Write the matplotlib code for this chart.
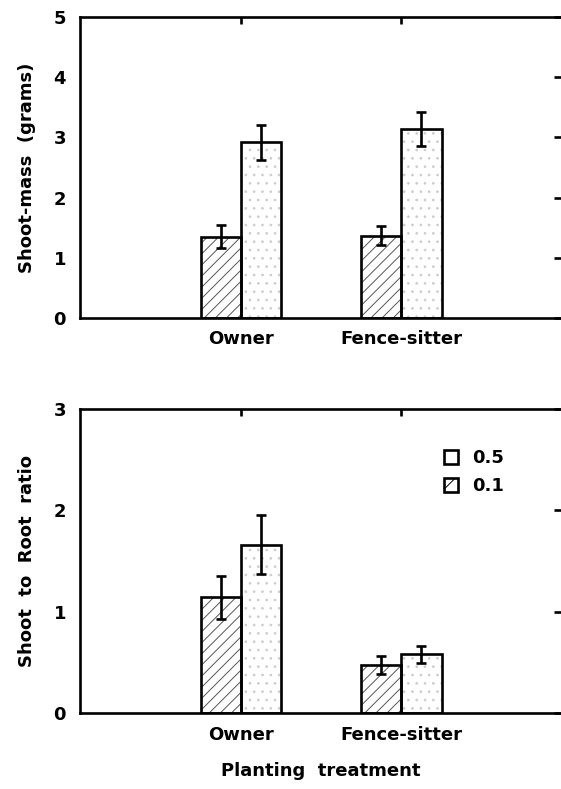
import matplotlib
matplotlib.use("Agg")
import matplotlib.pyplot as plt
from matplotlib.patches import Patch
import numpy as np

# ── Data ──────────────────────────────────────────────────────────────────────
categories = ["Owner", "Fence-sitter"]

mass_01 = [1.35, 1.37]
mass_01_err = [0.19, 0.16]
mass_05 = [2.92, 3.14]
mass_05_err = [0.29, 0.28]

ratio_01 = [1.14, 0.47]
ratio_01_err = [0.21, 0.09]
ratio_05 = [1.66, 0.58]
ratio_05_err = [0.29, 0.085]

# ── Style ─────────────────────────────────────────────────────────────────────
plt.rcParams["font.family"] = ["DejaVu Sans"]
plt.rcParams["font.weight"] = "bold"
plt.rcParams["hatch.linewidth"] = 0.7

FS = 13
W = 0.25
LW = 1.9
x = np.arange(1, len(categories) + 1)


def draw_panel(ax, v01, e01, v05, e05, ymax, ylabel):
    # hatched (0.1) bars: hatch in grey, outline in black
    ax.bar(x - W / 2, v01, W, facecolor="white", edgecolor="#555555",
           hatch="///", linewidth=0, zorder=2)
    ax.bar(x - W / 2, v01, W, facecolor="none", edgecolor="black",
           linewidth=LW, zorder=3)
    # dotted (0.5) bars
    ax.bar(x + W / 2, v05, W, facecolor="white", edgecolor="#cccccc",
           hatch="..", linewidth=0, zorder=2)
    ax.bar(x + W / 2, v05, W, facecolor="none", edgecolor="black",
           linewidth=LW, zorder=3)

    ax.errorbar(x - W / 2, v01, yerr=e01, fmt="none", ecolor="black",
                elinewidth=LW, capsize=3.3, capthick=LW, zorder=4)
    ax.errorbar(x + W / 2, v05, yerr=e05, fmt="none", ecolor="black",
                elinewidth=LW, capsize=3.3, capthick=LW, zorder=4)

    ax.set_xlim(0, 3)
    ax.set_ylim(0, ymax)
    ax.set_xticks(x)
    ax.set_xticklabels(categories, fontsize=FS, fontweight="bold")
    ax.set_yticks(range(0, ymax + 1))
    ax.set_yticklabels([str(v) for v in range(0, ymax + 1)],
                       fontsize=FS, fontweight="bold")
    ax.tick_params(axis="x", bottom=False, top=True, direction="in",
                   length=5, width=LW, pad=9)
    ax.tick_params(axis="y", left=False, right=True, direction="in",
                   length=6, width=LW, pad=10)
    for s in ax.spines.values():
        s.set_linewidth(LW)
    ax.set_ylabel(ylabel, fontsize=FS, fontweight="bold", labelpad=13)


fig = plt.figure(figsize=(5.61, 7.89), dpi=100)

ax1 = fig.add_axes([80 / 561, 1 - 318 / 789, 482 / 561, 301 / 789])
draw_panel(ax1, mass_01, mass_01_err, mass_05, mass_05_err, 5,
           "Shoot-mass  (grams)")

ax2 = fig.add_axes([80 / 561, 1 - 713 / 789, 482 / 561, 304 / 789])
draw_panel(ax2, ratio_01, ratio_01_err, ratio_05, ratio_05_err, 3,
           "Shoot  to  Root  ratio")
ax2.set_xlabel("Planting  treatment", fontsize=FS, fontweight="bold")
ax2.xaxis.set_label_coords((321 - 80) / 482, -0.16)

handles = [
    Patch(facecolor="white", edgecolor="black", linewidth=LW),
    Patch(facecolor="white", edgecolor="black", linewidth=LW, hatch="/"),
]
leg = fig.legend(handles, ["0.5", "0.1"], loc="upper left",
                 bbox_to_anchor=(444 / 561, 1 - 449 / 789),
                 frameon=False, prop={"weight": "bold", "size": FS},
                 handlelength=0.8, handleheight=0.8, handletextpad=0.75,
                 labelspacing=0.55, borderpad=0, borderaxespad=0)

fig.savefig("out.png", dpi=100)
